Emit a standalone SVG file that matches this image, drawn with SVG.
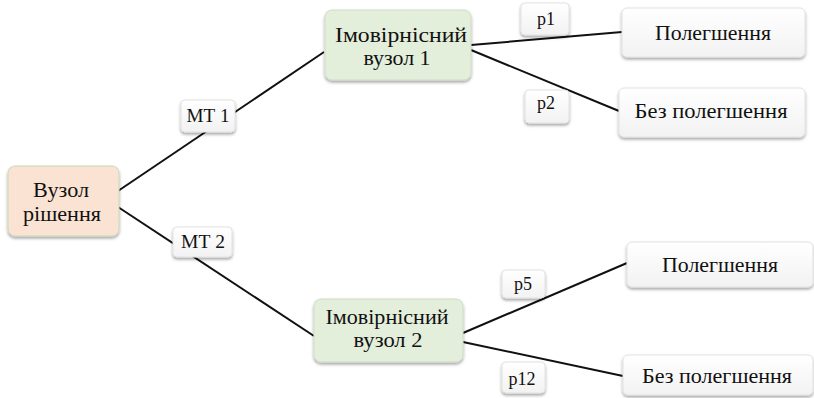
<svg xmlns="http://www.w3.org/2000/svg" width="814" height="398" viewBox="0 0 814 398">
  <defs>
    <filter id="shadow" x="-20%" y="-20%" width="140%" height="150%">
      <feDropShadow dx="0" dy="2" stdDeviation="1.6" flood-color="#000" flood-opacity="0.35"/>
    </filter>
    <linearGradient id="whiteFill" x1="0" y1="0" x2="0" y2="1">
      <stop offset="0" stop-color="#ffffff"/>
      <stop offset="1" stop-color="#f2f2f2"/>
    </linearGradient>
  </defs>
  <style>
    text { fill: #111; text-anchor: middle; font-family: "Liberation Serif", serif; }
    .node text { font-size: 22px; }
    .node.chancenode text { font-size: 20px; }
    .lbl text { font-size: 18px; }
    .mt text { font-size: 19px; }
    .box { filter: url(#shadow); }
    .decision { fill: #fae3d3; stroke: #c8d8b8; stroke-width: 1; }
    .chance { fill: #e3eedb; stroke: #d0dcc6; stroke-width: 1; }
    .outcome { fill: url(#whiteFill); stroke: #e2e2e2; stroke-width: 1; }
    .tag { fill: url(#whiteFill); stroke: #e2e2e2; stroke-width: 1; }
    .edge { stroke: #111; stroke-width: 2; fill: none; }
  </style>

  <rect width="814" height="398" fill="#ffffff"/>

  <!-- branches -->
  <g id="connectors">
    <line class="edge" x1="118" y1="191" x2="324" y2="52"/>
    <line class="edge" x1="118" y1="207" x2="314" y2="336"/>
    <line class="edge" x1="471" y1="45" x2="622" y2="32"/>
    <line class="edge" x1="471" y1="50" x2="619" y2="111"/>
    <line class="edge" x1="463" y1="333" x2="627" y2="263"/>
    <line class="edge" x1="463" y1="342" x2="623" y2="376"/>
  </g>

  <!-- branch labels -->
  <g id="label-mt1" class="lbl mt">
    <rect class="box tag" x="181" y="100" width="54" height="32" rx="4"/>
    <text x="208" y="122" textLength="43" lengthAdjust="spacingAndGlyphs">МТ 1</text>
  </g>
  <g id="label-mt2" class="lbl mt">
    <rect class="box tag" x="173" y="227" width="59" height="30" rx="4"/>
    <text x="203" y="248" textLength="44" lengthAdjust="spacingAndGlyphs">МТ 2</text>
  </g>
  <g id="label-p1" class="lbl">
    <rect class="box tag" x="521" y="3" width="48" height="32" rx="4"/>
    <text x="546" y="25">p1</text>
  </g>
  <g id="label-p2" class="lbl">
    <rect class="box tag" x="525" y="90" width="44" height="33" rx="4"/>
    <text x="546" y="109">p2</text>
  </g>
  <g id="label-p5" class="lbl">
    <rect class="box tag" x="502" y="270" width="43" height="28" rx="4"/>
    <text x="523" y="290">p5</text>
  </g>
  <g id="label-p12" class="lbl">
    <rect class="box tag" x="502" y="362" width="43" height="31" rx="4"/>
    <text x="522" y="385">p12</text>
  </g>

  <!-- decision node -->
  <g id="decision" class="node">
    <rect class="box decision" x="8" y="166" width="111" height="70" rx="7"/>
    <text x="61" y="197" textLength="56" lengthAdjust="spacingAndGlyphs">Вузол</text>
    <text x="62" y="221" textLength="78" lengthAdjust="spacingAndGlyphs">рішення</text>
  </g>

  <!-- chance nodes -->
  <g id="chance-1" class="node chancenode">
    <rect class="box chance" x="325" y="10" width="146" height="70" rx="7"/>
    <text x="401" y="42" textLength="132" lengthAdjust="spacingAndGlyphs">Імовірнісний</text>
    <text x="397" y="65" textLength="67" lengthAdjust="spacingAndGlyphs">вузол 1</text>
  </g>
  <g id="chance-2" class="node chancenode">
    <rect class="box chance" x="314" y="299" width="149" height="63" rx="7"/>
    <text x="387" y="324" textLength="123" lengthAdjust="spacingAndGlyphs">Імовірнісний</text>
    <text x="388" y="347" textLength="69" lengthAdjust="spacingAndGlyphs">вузол 2</text>
  </g>

  <!-- outcomes -->
  <g id="outcome-1a" class="node">
    <rect class="box outcome" x="622" y="8" width="183" height="49" rx="5"/>
    <text x="713" y="40" textLength="116" lengthAdjust="spacingAndGlyphs">Полегшення</text>
  </g>
  <g id="outcome-1b" class="node">
    <rect class="box outcome" x="619" y="88" width="186" height="49" rx="5"/>
    <text x="711" y="118" textLength="153" lengthAdjust="spacingAndGlyphs">Без полегшення</text>
  </g>
  <g id="outcome-2a" class="node">
    <rect class="box outcome" x="627" y="242" width="186" height="45" rx="5"/>
    <text x="720" y="272" textLength="116" lengthAdjust="spacingAndGlyphs">Полегшення</text>
  </g>
  <g id="outcome-2b" class="node">
    <rect class="box outcome" x="623" y="355" width="190" height="40" rx="5"/>
    <text x="717" y="383" textLength="150" lengthAdjust="spacingAndGlyphs">Без полегшення</text>
  </g>
</svg>
